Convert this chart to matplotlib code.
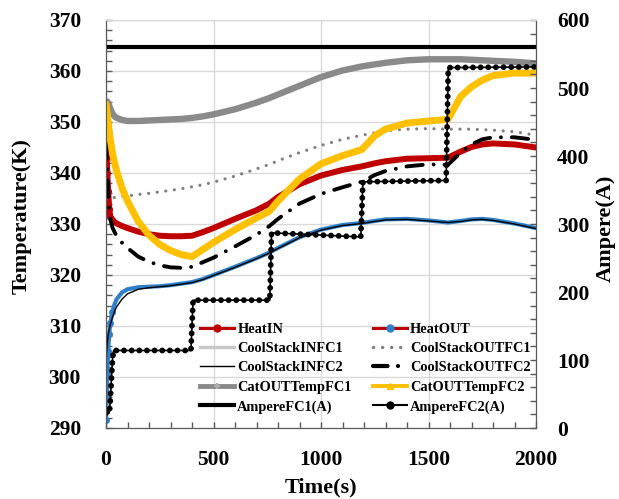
import matplotlib
matplotlib.use("Agg")
import matplotlib.pyplot as plt
from matplotlib.lines import Line2D
from matplotlib.ticker import MultipleLocator

plt.rcParams["font.family"] = ["Liberation Serif", "DejaVu Serif"]
plt.rcParams["font.weight"] = "bold"

# Shared sampling times (s) for the temperature channels
time_s = [0, 3, 6, 10, 15, 20, 30, 40, 50, 75, 100, 150, 200, 250, 300, 350,
          400, 450, 500, 600, 700, 760, 800, 900, 1000, 1100, 1190, 1250,
          1300, 1400, 1500, 1590, 1650, 1700, 1750, 1800, 1900, 2000]

heat_in = [345.5, 343.0, 340.0, 336.5, 333.0, 331.4, 330.8, 330.4, 330.1, 329.6,
           329.2, 328.5, 328.0, 327.7, 327.6, 327.6, 327.7, 328.4, 329.2, 331.0,
           332.7, 334.0, 335.3, 337.8, 339.5, 340.6, 341.3, 341.9, 342.3, 342.8,
           342.9, 343.0, 344.2, 345.1, 345.6, 345.8, 345.6, 345.0]

heat_out = [291.5, 296.0, 300.5, 305.0, 308.5, 310.5, 312.8, 314.3, 315.3, 316.6,
            317.2, 317.6, 317.7, 317.8, 318.0, 318.3, 318.6, 319.2, 320.0, 321.6,
            323.3, 324.4, 325.3, 327.4, 328.9, 329.8, 330.2, 330.6, 330.9, 331.0,
            330.7, 330.3, 330.6, 330.9, 331.0, 330.8, 330.1, 329.2]

cool_stack_in_fc1 = [292.0, 296.5, 301.0, 305.2, 308.6, 310.6, 312.8, 314.3, 315.3, 316.6,
                     317.2, 317.6, 317.7, 317.8, 318.0, 318.3, 318.6, 319.2, 320.0, 321.6,
                     323.3, 324.4, 325.3, 327.4, 328.9, 329.8, 330.2, 330.6, 330.9, 331.0,
                     330.7, 330.3, 330.6, 330.9, 331.0, 330.8, 330.1, 329.2]

cool_stack_out_fc1 = [334.8, 334.8, 334.9, 334.9, 335.0, 335.0, 335.1, 335.2, 335.3, 335.4,
                      335.5, 335.8, 336.0, 336.3, 336.6, 336.9, 337.3, 337.7, 338.2, 339.4,
                      340.8, 341.7, 342.4, 344.0, 345.4, 346.6, 347.4, 347.9, 348.3, 348.6,
                      348.7, 348.6, 348.6, 348.6, 348.5, 348.4, 348.1, 347.4]

cool_stack_in_fc2 = [302.0, 305.0, 306.8, 308.2, 309.4, 310.3, 311.7, 312.9, 313.8, 315.3,
                     316.3, 317.2, 317.5, 317.7, 317.9, 318.2, 318.5, 319.1, 319.9, 321.5,
                     323.2, 324.3, 325.2, 327.3, 328.8, 329.7, 330.1, 330.5, 330.8, 330.9,
                     330.6, 330.3, 330.5, 330.8, 330.9, 330.7, 330.0, 329.1]

cool_stack_out_fc2 = [346.0, 343.0, 340.0, 336.5, 333.0, 331.0, 329.3, 328.4, 327.6, 326.3,
                      325.3, 323.6, 322.6, 321.9, 321.5, 321.4, 321.6, 322.5, 323.4, 325.6,
                      327.9, 329.6, 331.0, 334.0, 335.9, 337.2, 338.3, 339.6, 340.4, 341.3,
                      341.7, 341.6, 344.0, 345.6, 346.6, 347.0, 347.0, 346.5]

cat_out_temp_fc1 = [353.6, 353.9, 354.0, 353.7, 353.2, 352.6, 351.7, 351.1, 350.8, 350.4,
                    350.2, 350.2, 350.3, 350.4, 350.5, 350.6, 350.8, 351.1, 351.5, 352.5,
                    353.8, 354.7, 355.4, 357.1, 358.8, 360.1, 360.9, 361.3, 361.6, 362.1,
                    362.3, 362.3, 362.3, 362.2, 362.1, 362.0, 361.8, 361.5]

cat_out_temp_fc2 = [353.5, 352.5, 351.5, 350.0, 348.2, 346.6, 344.0, 342.0, 340.3, 337.0,
                    334.5, 330.5, 327.8, 326.0, 324.8, 324.0, 323.6, 325.0, 326.4, 328.9,
                    331.2, 332.5, 334.5, 338.8, 341.8, 343.4, 344.6, 347.3, 348.6, 349.8,
                    350.2, 350.5, 355.0, 356.9, 358.2, 359.1, 359.6, 359.6]

# Stack currents (A)
ampere_fc1_time = [0, 2000]
ampere_fc1 = [560, 560]
ampere_fc2_time = [0, 15, 20, 25, 30, 35, 395, 405, 762, 770, 1185, 1195, 1582, 1592, 2000]
ampere_fc2 = [22, 22, 40, 70, 100, 114, 114, 188, 188, 287, 281, 362, 364, 530, 531]

RED = "#C00000"
BLUE = "#2E7FC8"
YELLOW = "#FFC000"
GRAY = "#8A8A8A"
DOTGRAY = "#7F7F7F"
LIGHTGRAY = "#C8C8C8"
SPINE = "#595959"

fig = plt.figure(figsize=(6.19, 4.99), dpi=100)
ax = fig.add_axes([106 / 619, 1 - 428 / 499, 430 / 619, 408 / 499])
ax2 = ax.twinx()

# sampled points are shown as dots only during the fast start-up transient
start_pts = list(range(0, 7))
ax.plot(time_s, heat_in, color=RED, lw=4.3, marker="o", ms=4.0, mec=RED, mfc=RED,
        markevery=start_pts, solid_capstyle="round", zorder=3)
ax.plot(time_s, heat_out, color=BLUE, lw=3.0, marker="o", ms=4.0, mec=BLUE, mfc=BLUE,
        markevery=start_pts, solid_capstyle="round", zorder=3)
ax.plot(time_s, cool_stack_in_fc1, color=LIGHTGRAY, lw=1.0, zorder=2)
ax.plot(time_s, cool_stack_out_fc1, color=DOTGRAY, lw=2.3, linestyle=(0, (0.01, 2.7)),
        dash_capstyle="round", zorder=3)
ax.plot(time_s, cool_stack_in_fc2, color="black", lw=1.0, zorder=3)
ax.plot(time_s, cool_stack_out_fc2, color="black", lw=2.8, linestyle=(0, (4.2, 2.8, 0.01, 2.8)),
        dash_capstyle="round", zorder=3)
ax.plot(time_s, cat_out_temp_fc1, color=GRAY, lw=4.6, solid_capstyle="round", zorder=3)
ax.plot(time_s, cat_out_temp_fc2, color=YELLOW, lw=5.0, solid_capstyle="round", zorder=3)

ax2.plot(ampere_fc1_time, ampere_fc1, color="black", lw=3.0)
ax2.plot(ampere_fc2_time, ampere_fc2, color="black", lw=1.2)
ax2.plot(ampere_fc2_time, ampere_fc2, color="black", lw=4.2, linestyle=(0, (0.01, 1.3)),
         dash_capstyle="round")

ax.set_xlim(0, 2000)
ax.set_ylim(290, 370)
ax2.set_ylim(0, 600)

ax.xaxis.set_major_locator(MultipleLocator(500))
ax.xaxis.set_minor_locator(MultipleLocator(100))
ax.yaxis.set_major_locator(MultipleLocator(10))
ax.yaxis.set_minor_locator(MultipleLocator(2))
ax2.yaxis.set_major_locator(MultipleLocator(100))
ax2.yaxis.set_minor_locator(MultipleLocator(20))

ax.grid(True, which="major", color="#D9D9D9", lw=1.0, zorder=0)
ax.set_axisbelow(True)

for a in (ax, ax2):
    for side in ("left", "right", "bottom"):
        a.spines[side].set_color(SPINE)
    a.spines["top"].set_color("#D9D9D9")

ax.tick_params(axis="both", which="both", direction="in", colors=SPINE, length=4.5, width=1.0,
               labelcolor="black", labelsize=15.5, top=False, right=False)
ax.tick_params(axis="y", pad=18)
ax.tick_params(axis="x", pad=16)
ax2.tick_params(axis="y", which="both", direction="in", colors=SPINE, length=4.5, width=1.0,
                labelcolor="black", labelsize=15.5, pad=15)

for lab in ax.get_xticklabels() + ax.get_yticklabels() + ax2.get_yticklabels():
    lab.set_fontweight("bold")

ax.set_xlabel("Time(s)", fontsize=16, fontweight="bold")
ax.set_ylabel("Temperature(K)", fontsize=16, fontweight="bold")
ax2.set_ylabel("Ampere(A)", fontsize=16, fontweight="bold")
ax.xaxis.set_label_coords(0.5, -0.122)
ax.yaxis.set_label_coords(-0.172, 0.52)
ax2.yaxis.set_label_coords(1.14, 0.49)

handles = [
    Line2D([], [], color=RED, lw=2.2, marker="o", ms=5, mfc=RED, mec=RED),
    Line2D([], [], color=LIGHTGRAY, lw=2.5),
    Line2D([], [], color="black", lw=1.0),
    Line2D([], [], color=GRAY, lw=3.5, marker="+", ms=5, mec="#B0B0B0", mew=1.5),
    Line2D([], [], color="black", lw=3.0),
    Line2D([], [], color=RED, lw=2.2, marker="o", ms=5, mfc=BLUE, mec=BLUE),
    Line2D([], [], color=DOTGRAY, lw=2.5, linestyle=(0, (0.01, 2.6)), dash_capstyle="round"),
    Line2D([], [], color="black", lw=3.0, linestyle=(0, (3.5, 2.5, 0.01, 2.5)), dash_capstyle="round"),
    Line2D([], [], color=YELLOW, lw=2.8, marker="^", ms=5, mfc=YELLOW, mec=YELLOW),
    Line2D([], [], color="black", lw=1.5, marker="o", ms=5, mfc="black", mec="black"),
]
labels = ["HeatIN", "CoolStackINFC1", "CoolStackINFC2", "CatOUTTempFC1", "AmpereFC1(A)",
          "HeatOUT", "CoolStackOUTFC1", "CoolStackOUTFC2", "CatOUTTempFC2", "AmpereFC2(A)"]
leg = ax2.legend(handles, labels, ncol=2, frameon=False, loc="upper left",
                 bbox_to_anchor=(0.218, 0.258), prop={"family": ["Liberation Serif"],
                                                       "weight": "bold", "size": 10.4},
                 handlelength=2.4, handletextpad=0.2, columnspacing=1.45,
                 labelspacing=0.43, borderpad=0.0, borderaxespad=0.0)

fig.savefig("out.png", dpi=100)
